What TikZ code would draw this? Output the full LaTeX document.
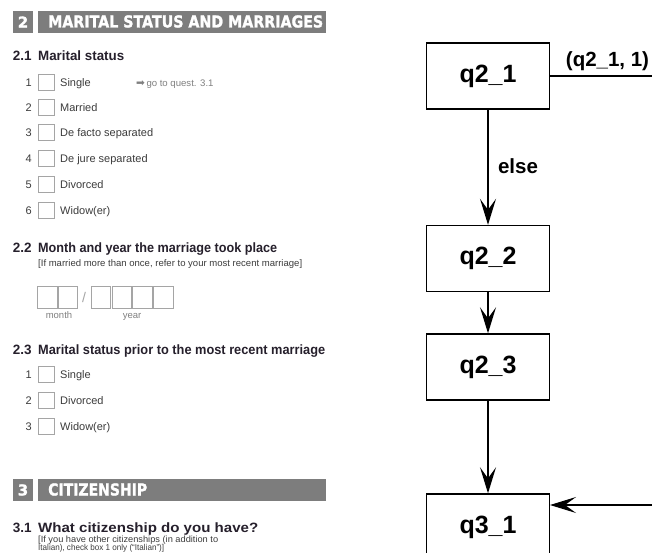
\documentclass[tikz,border=0pt]{standalone}
\usepackage{graphicx}
\usepackage{fontspec}
\setmainfont{Liberation Sans}
\newfontfamily\dvs{DejaVu Sans}
\newfontfamily\heavy[BoldFeatures={FakeBold=1.6}]{DejaVu Sans}
\usetikzlibrary{arrows.meta}
\definecolor{hgray}{RGB}{125,125,125}
\definecolor{ink}{RGB}{38,32,44}
\definecolor{opttxt}{RGB}{60,60,60}
\definecolor{boxgray}{RGB}{165,165,165}
\newcommand{\fw}[2]{\resizebox{#1pt}{\height}{#2}}
\begin{document}
\begin{tikzpicture}[x=1pt,y=-1pt,
  hbox/.style={fill=hgray,inner sep=0pt,minimum width=20.4pt,minimum height=22.6pt,text=white,font=\heavy\bfseries\fontsize{15}{15}\selectfont},
  hbar/.style={fill=hgray,inner sep=0pt,minimum width=288pt,minimum height=22.6pt,anchor=west},
  htxt/.style={text=white,inner sep=0pt,anchor=base west,font=\heavy\bfseries\fontsize{16.5}{16.5}\selectfont},
  qtxt/.style={text=ink,inner sep=0pt,anchor=base west,font=\bfseries\fontsize{13.5}{14}\selectfont},
  qsub/.style={text=opttxt,inner sep=0pt,anchor=base west,font=\fontsize{9.5}{10}\selectfont},
  num/.style={text=opttxt,inner sep=0pt,anchor=base east,font=\fontsize{11}{12}\selectfont},
  cbox/.style={draw=boxgray,line width=0.8pt,minimum size=16pt,inner sep=0pt},
  opt/.style={text=opttxt,inner sep=0pt,anchor=base west,font=\fontsize{11}{12}\selectfont},
  goto/.style={text=gray,inner sep=0pt,anchor=base west,font=\fontsize{9.5}{10}\selectfont},
  dbox/.style={draw=boxgray,line width=0.8pt,minimum width=19.5pt,minimum height=22pt,inner sep=0pt},
  dlab/.style={text=gray,inner sep=0pt,anchor=base,font=\fontsize{9.5}{10}\selectfont},
  fnode/.style={draw,line width=1.4pt,minimum width=122.6pt,minimum height=66pt,inner sep=0pt,font=\bfseries\fontsize{25}{25}\selectfont},
  flow/.style={line width=1.4pt,-{Stealth[length=26pt,width=16pt,inset=11pt]}},
  elab/.style={font=\bfseries\fontsize{20.5}{21}\selectfont,inner sep=0pt}
]
\useasboundingbox[fill=white] (0,0) rectangle (652,553);

% ---------- Section 2 header
\node[hbox] (h2n) at (23,22) {2};
\node[hbar] (h2b) at (38,22) {};
\node[htxt] (h2t) at (48,27.5) {\fw{275}{MARITAL STATUS AND MARRIAGES}};

% ---------- 2.1
\node[qtxt] (q21n) at (12.7,61) {2.1};
\node[qtxt] (q21t) at (38,61) {\fw{86}{Marital status}};
\foreach \i/\y/\t in {1/82/Single,2/107/Married,3/132/De facto separated,4/158/De jure separated,5/184/Divorced,6/210/Widow(er)}{
  \node[num] (a\i n) at (32,\y+4.5) {\i};
  \node[cbox] (a\i b) at (46,\y) {};
  \node[opt] (a\i t) at (60,\y+4.5) {\t};
}
\node[goto] (goto) at (136,86.5) {{\dvs\fontsize{10.5}{10}\selectfont ➡}\hspace{1.5pt}\fw{67}{go to quest. 3.1}};

% ---------- 2.2
\node[qtxt] (q22n) at (12.7,252) {2.2};
\node[qtxt] (q22t) at (38,252) {\fw{239}{Month and year the marriage took place}};
\node[qsub] (q22s) at (38,266.5) {\fw{264}{[If married more than once, refer to your most recent marriage]}};
\node[dbox] (d1) at (47.5,297) {};
\node[dbox] (d2) at (67.8,297) {};
\node[text=boxgray,inner sep=0pt,font=\fontsize{14}{14}\selectfont] (slash) at (84,297) {/};
\node[dbox] (d3) at (100.8,297) {};
\node[dbox] (d4) at (121.7,297) {};
\node[dbox] (d5) at (142.5,297) {};
\node[dbox] (d6) at (163.3,297) {};
\node[dlab] (mlab) at (59,318) {month};
\node[dlab] (ylab) at (132,318) {year};

% ---------- 2.3
\node[qtxt] (q23n) at (12.7,354) {2.3};
\node[qtxt] (q23t) at (38,354) {\fw{287}{Marital status prior to the most recent marriage}};
\foreach \i/\y/\t in {1/374/Single,2/400/Divorced,3/426/Widow(er)}{
  \node[num] (c\i n) at (32,\y+4.5) {\i};
  \node[cbox] (c\i b) at (46,\y) {};
  \node[opt] (c\i t) at (60,\y+4.5) {\t};
}

% ---------- Section 3 header
\node[hbox] (h3n) at (23,490) {3};
\node[hbar] (h3b) at (38,490) {};
\node[htxt] (h3t) at (48,495.5) {\fw{99}{CITIZENSHIP}};

% ---------- 3.1
\node[qtxt] (q31n) at (12.7,532.5) {3.1};
\node[qtxt] (q31t) at (38,532.5) {\fw{220}{What citizenship do you have?}};
\node[qsub,font=\fontsize{9}{10}\selectfont] (q31s1) at (38,542) {\fw{180}{[If you have other citizenships (in addition to}};
\node[qsub,font=\fontsize{8.5}{10}\selectfont] (q31s2) at (38,550.8) {\fw{126}{Italian), check box 1 only (``Italian'')]}};

% ---------- Flow diagram
\node[fnode] (q21) at (488,76) {q2\_1};
\node[fnode] (q22) at (488,258.5) {q2\_2};
\node[fnode] (q23) at (488,367) {q2\_3};
\node[fnode] (q31) at (488,527) {q3\_1};
\coordinate (rout) at (652,77);
\coordinate (rin) at (652,505);

\draw[line width=1.4pt] (q21.east) -- (rout |- q21.east);
\node[elab] (lab1) at (607.5,61) {(q2\_1, 1)};
\draw[flow] (q21) -- (q22);
\node[elab] (lab2) at (518,166) {else};
\draw[flow] (q22) -- (q23);
\draw[flow] (q23) -- (q31);
\draw[flow] (rin) -- (q31.east |- rin);
\end{tikzpicture}
\end{document}
